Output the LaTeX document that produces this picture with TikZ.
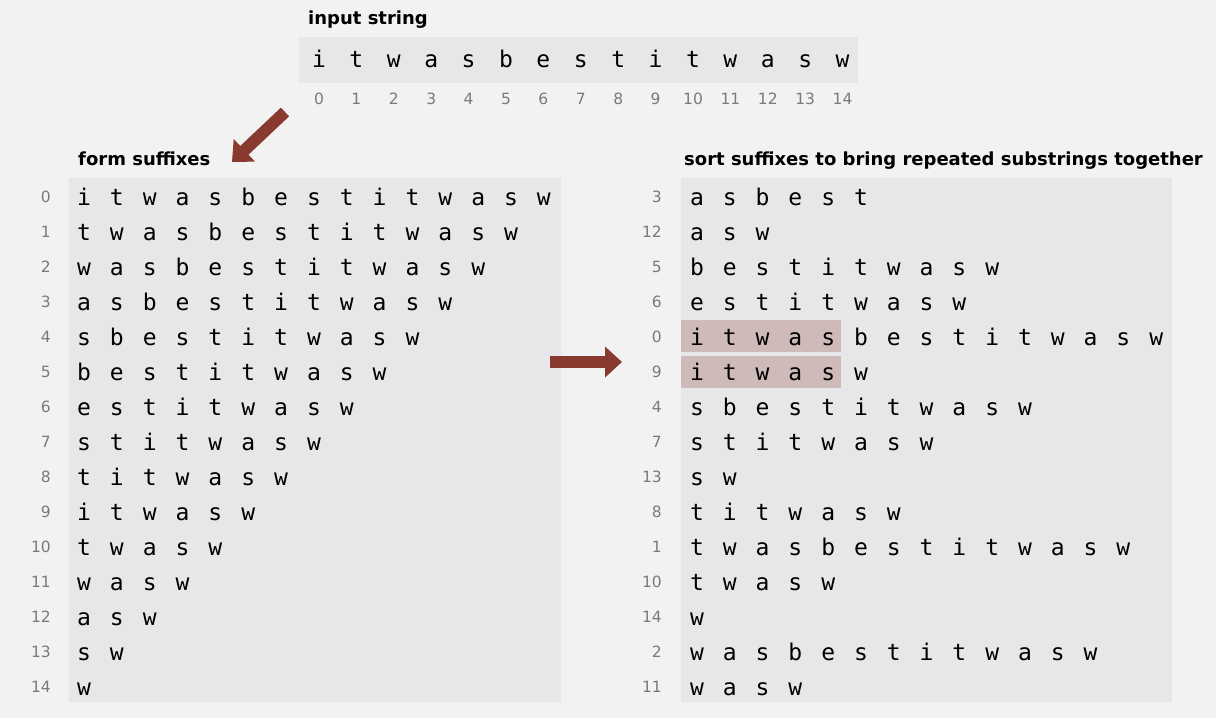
\documentclass[tikz,border=0pt]{standalone}
\usepackage{fontspec}
\setmainfont{DejaVu Sans}
\newfontfamily\chfont{DejaVu Sans Mono}
\usetikzlibrary{arrows.meta}
\definecolor{bgc}{HTML}{F2F2F2}
\definecolor{panelc}{HTML}{E7E7E9}
\definecolor{hlc}{HTML}{CEBAB8}
\definecolor{arrc}{HTML}{883A2F}
\definecolor{idxc}{HTML}{7A7A7A}
\tikzset{
  chr/.style={font=\chfont\fontsize{23}{23}\selectfont, inner sep=0pt, anchor=base},
  idxnum/.style={font=\fontsize{15.5}{15.5}\selectfont, text=idxc, inner sep=0pt, anchor=base},
  rowlbl/.style={font=\fontsize{15.5}{15.5}\selectfont, text=idxc, inner sep=0pt, anchor=base east},
  ttl/.style={font=\bfseries\fontsize{18}{18}\selectfont, inner sep=0pt, anchor=base west},
  panel/.style={fill=panelc, draw=none},
  hlbox/.style={fill=hlc, draw=none},
  fatarrow/.style={draw=arrc, line width=12pt, -{Triangle[length=17pt,width=30pt,fill=arrc]}}
}
\newcommand{\sufrow}[3]{%
  \node[rowlbl] (Rn#1) at (662,{202+35*#1}) {#2};
  \foreach \c [count=\k from 0] in {#3} {
    \node[chr] (R#1-\k) at ({697+32.8*\k},{205+35*#1}) {\c};
  }%
}
\begin{document}
\begin{tikzpicture}[x=1pt,y=-1pt]
\useasboundingbox (0,0) rectangle (1216,718);
\fill[bgc] (0,0) rectangle (1216,718);
% panels
\fill[panel] (299,37) rectangle (858,83);
\fill[panel] (69,178) rectangle (561,702);
\fill[panel] (681,178) rectangle (1172,702);
\fill[hlbox] (681,320) rectangle (841,352);
\fill[hlbox] (681,356) rectangle (841,388);
% titles
\node[ttl] (t1) at (308,24) {input string};
\node[ttl] (t2) at (78,165) {form suffixes};
\node[ttl] (t3) at (684,165) {sort suffixes to bring repeated substrings together};
% input string
\foreach \c [count=\k from 0] in {i,t,w,a,s,b,e,s,t,i,t,w,a,s,w} {
  \node[chr] (T\k) at ({319+37.4*\k},67) {\c};
  \node[idxnum] (Ti\k) at ({319+37.4*\k},104) {\k};
}
% left: suffixes
\foreach \r in {0,...,14} {
  \node[rowlbl] (Ln\r) at (51,{202+35*\r}) {\r};
  \foreach \c [count=\k from 0] in {i,t,w,a,s,b,e,s,t,i,t,w,a,s,w} {
    \ifnum\k<\r\else
      \node[chr] (L\r-\k) at ({84+32.85*(\k-\r)},{205+35*\r}) {\c};
    \fi
  }
}
% right: sorted suffixes
\sufrow{0}{3}{a,s,b,e,s,t}
\sufrow{1}{12}{a,s,w}
\sufrow{2}{5}{b,e,s,t,i,t,w,a,s,w}
\sufrow{3}{6}{e,s,t,i,t,w,a,s,w}
\sufrow{4}{0}{i,t,w,a,s,b,e,s,t,i,t,w,a,s,w}
\sufrow{5}{9}{i,t,w,a,s,w}
\sufrow{6}{4}{s,b,e,s,t,i,t,w,a,s,w}
\sufrow{7}{7}{s,t,i,t,w,a,s,w}
\sufrow{8}{13}{s,w}
\sufrow{9}{8}{t,i,t,w,a,s,w}
\sufrow{10}{1}{t,w,a,s,b,e,s,t,i,t,w,a,s,w}
\sufrow{11}{10}{t,w,a,s,w}
\sufrow{12}{14}{w}
\sufrow{13}{2}{w,a,s,b,e,s,t,i,t,w,a,s,w}
\sufrow{14}{11}{w,a,s,w}
% arrows
\coordinate (a1s) at (285,112);
\coordinate (a1e) at (232,162);
\draw[fatarrow] (a1s) -- (a1e);
\coordinate (a2s) at (550,362);
\coordinate (a2e) at (622,362);
\draw[fatarrow] (a2s) -- (a2e);
\end{tikzpicture}
\end{document}
